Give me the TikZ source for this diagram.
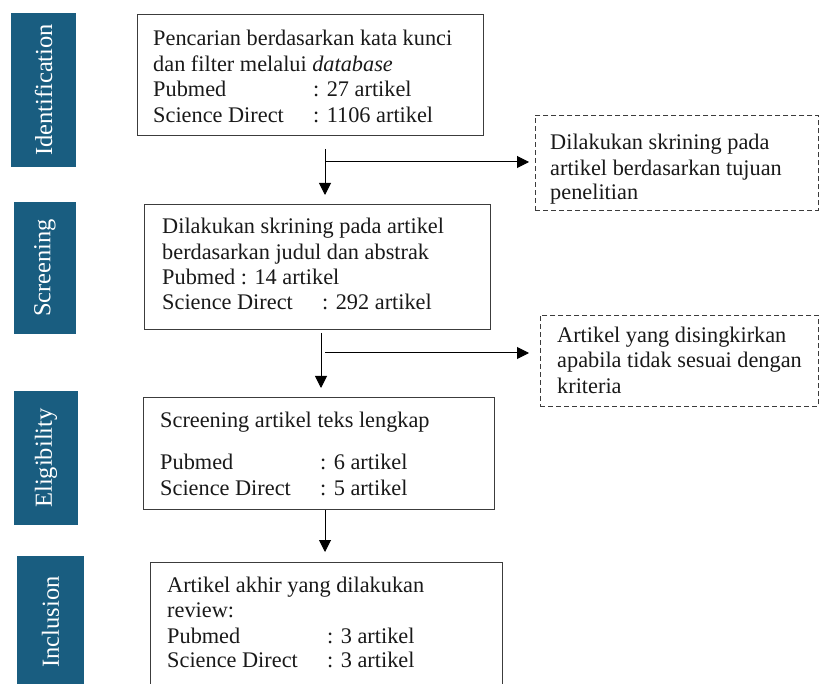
\documentclass[tikz,border=0pt]{standalone}
\usepackage{fontspec}
\setmainfont{Liberation Serif}
\usetikzlibrary{arrows.meta}
\definecolor{sidebar}{RGB}{25,93,128}
\definecolor{boxline}{RGB}{60,60,60}
\begin{document}
\begin{tikzpicture}[x=1pt,y=-1pt,
  side/.style={fill=sidebar, draw=none, rectangle, anchor=north west, inner sep=0},
  sidetext/.style={text=white, rotate=90, font=\fontsize{24.5}{28}\selectfont, inner sep=0},
  mainbox/.style={draw=boxline, line width=1.2pt, rectangle, anchor=north west, inner sep=0},
  dashbox/.style={draw=boxline, line width=0.9pt, dash pattern=on 5pt off 3pt, rectangle, anchor=north west, inner sep=0},
  txt/.style={anchor=base west, inner sep=0, text=black!90, font=\fontsize{22.3}{26}\selectfont},
  arr/.style={line width=1pt, -{Triangle[width=12pt,length=12pt]}}]
\useasboundingbox (0,0) rectangle (819,684);
\clip (0,0) rectangle (819,684);
% sidebars
\node[side, minimum width=65pt, minimum height=154pt] (s1) at (11,13) {};
\node[side, minimum width=62pt, minimum height=132pt] (s2) at (14,202) {};
\node[side, minimum width=64pt, minimum height=134pt] (s3) at (14,391) {};
\node[side, minimum width=67pt, minimum height=134pt] (s4) at (17,556) {};
\node[sidetext] (st1) at (43.5,90) {Identification};
\node[sidetext] (st2) at (45,268) {Screening};
\node[sidetext] (st3) at (46,458) {Eligibility};
\node[sidetext] (st4) at (50.5,622) {Inclusion};
% main boxes
\node[mainbox, minimum width=346pt, minimum height=121pt] (b1) at (137,14) {};
\node[mainbox, minimum width=346pt, minimum height=125pt] (b2) at (144,204) {};
\node[mainbox, minimum width=351pt, minimum height=112pt] (b3) at (143,397) {};
\node[mainbox, minimum width=352pt, minimum height=140pt] (b4) at (150,562) {};
% dashed boxes
\node[dashbox, minimum width=283pt, minimum height=95pt] (d1) at (535,115) {};
\node[dashbox, minimum width=278pt, minimum height=91pt] (d2) at (540,315) {};
% box 1 text
\node[txt] (t11) at (153,46) {Pencarian berdasarkan kata kunci};
\node[txt] (t12) at (153,72) {dan filter melalui \textit{database}};
\node[txt] (t13) at (153,97) {Pubmed};
\node[txt] (t13b) at (313,97) {: 27 artikel};
\node[txt] (t14) at (153,123) {Science Direct};
\node[txt] (t14b) at (313,123) {: 1106 artikel};
% box 2 text
\node[txt] (t21) at (162,234) {Dilakukan skrining pada artikel};
\node[txt] (t22) at (162,260) {berdasarkan judul dan abstrak};
\node[txt] (t23) at (162,285) {Pubmed : 14 artikel};
\node[txt] (t24) at (162,310) {Science Direct};
\node[txt] (t24b) at (322,310) {: 292 artikel};
% box 3 text
\node[txt] (t31) at (160,427) {Screening artikel teks lengkap};
\node[txt] (t32) at (160,469) {Pubmed};
\node[txt] (t32b) at (320,469) {: 6 artikel};
\node[txt] (t33) at (160,495) {Science Direct};
\node[txt] (t33b) at (320,495) {: 5 artikel};
% box 4 text
\node[txt] (t41) at (167,592) {Artikel akhir yang dilakukan};
\node[txt] (t42) at (167,617) {review:};
\node[txt] (t43) at (167,643) {Pubmed};
\node[txt] (t43b) at (327,643) {: 3 artikel};
\node[txt] (t44) at (167,667) {Science Direct};
\node[txt] (t44b) at (327,667) {: 3 artikel};
% dashed box texts
\node[txt] (u11) at (550,150) {Dilakukan skrining pada};
\node[txt] (u12) at (550,176) {artikel berdasarkan tujuan};
\node[txt] (u13) at (550,200) {penelitian};
\node[txt] (u21) at (557,343) {Artikel yang disingkirkan};
\node[txt] (u22) at (557,368) {apabila tidak sesuai dengan};
\node[txt] (u23) at (557,393) {kriteria};
% connectors
\coordinate (c1) at (325,149);
\coordinate (c1h) at (325,162);
\coordinate (c2) at (321,333);
\coordinate (c2h) at (325,353);
\coordinate (c3) at (325,510);
\draw[arr, shorten >=9pt] (c1) -- (c1 |- b2.north);
\draw[arr, shorten >=6pt] (c1h) -- (c1h -| d1.west);
\draw[arr, shorten >=9pt] (c2) -- (c2 |- b3.north);
\draw[arr, shorten >=11pt] (c2h) -- (c2h -| d2.west);
\draw[arr, shorten >=10pt] (c3) -- (c3 |- b4.north);
\end{tikzpicture}
\end{document}
